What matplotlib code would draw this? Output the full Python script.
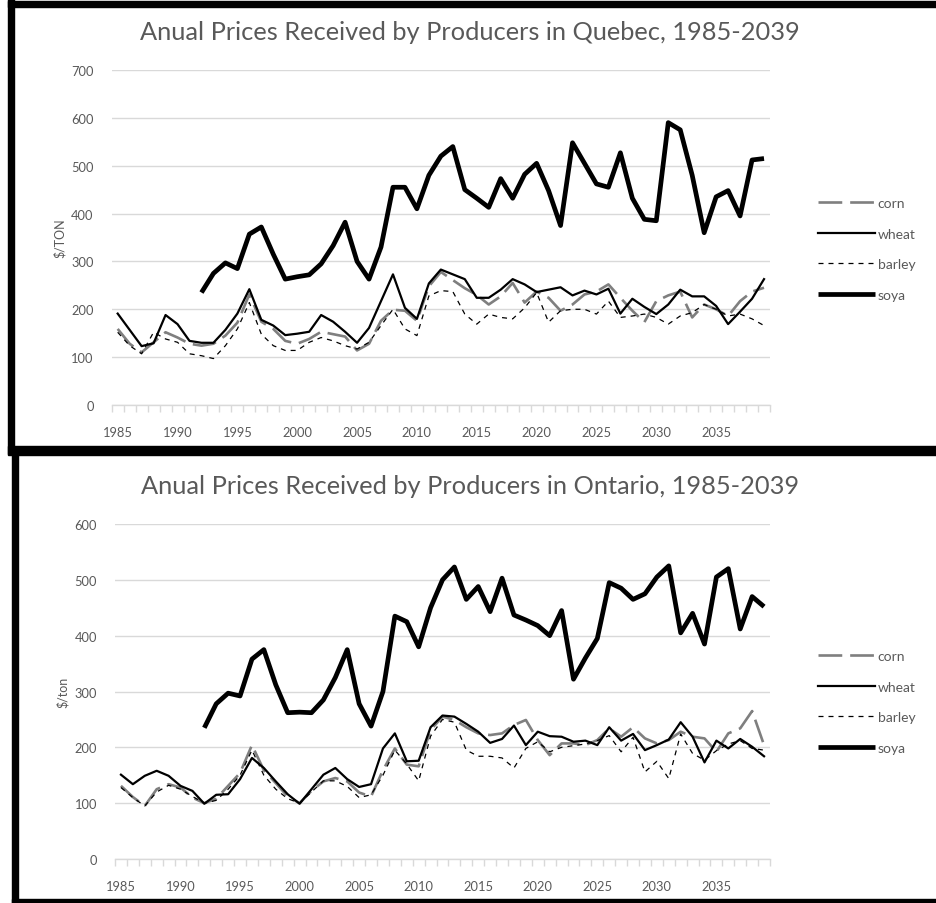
import numpy as np
import matplotlib.pyplot as plt
from matplotlib.patches import Rectangle
from matplotlib.ticker import FixedLocator

# years on the category axis
years = list(range(1985, 2040))
soya_years = list(range(1992, 2040))

# Quebec prices ($/ton)
qc_corn = [159, 128, 110, 131, 152, 141, 128, 124, 128, 145,
           172, 231, 174, 159, 134, 128, 138, 153, 148, 143,
           114, 128, 176, 199, 197, 176, 248, 278, 261, 244,
           230, 210, 227, 255, 214, 237, 224, 197, 210, 231,
           237, 252, 224, 197, 173, 217, 229, 237, 183, 210,
           200, 186, 217, 237, 245]
qc_wheat = [191, 157, 123, 129, 188, 169, 134, 130, 130, 157,
            191, 242, 178, 166, 146, 149, 153, 188, 174, 153,
            130, 161, 217, 273, 203, 180, 254, 283, 273, 263,
            224, 224, 241, 263, 252, 236, 241, 246, 229, 239,
            231, 243, 191, 222, 205, 190, 210, 241, 227, 227,
            207, 169, 195, 222, 263]
qc_barley = [152, 124, 107, 152, 138, 131, 107, 103, 97, 124,
             159, 214, 148, 124, 114, 114, 131, 141, 134, 124,
             117, 131, 166, 200, 159, 145, 228, 239, 237, 190,
             169, 190, 183, 180, 203, 235, 173, 197, 200, 200,
             190, 217, 183, 186, 190, 183, 169, 186, 193, 210,
             200, 186, 190, 180, 166]
qc_soya = [235, 275, 297, 285, 357, 372, 315, 263, 268, 272,
           295, 333, 382, 300, 263, 330, 455, 455, 410, 480,
           520, 540, 450, 432, 413, 473, 432, 482, 505, 448,
           375, 548, 505, 462, 455, 527, 432, 388, 385, 590,
           575, 480, 360, 435, 448, 395, 512, 515]

# Ontario prices ($/ton)
on_corn = [131, 111, 95, 125, 134, 128, 110, 100, 108, 131,
           154, 204, 159, 136, 112, 100, 122, 139, 145, 139,
           119, 112, 159, 198, 169, 166, 231, 255, 249, 236,
           225, 222, 225, 240, 249, 213, 186, 207, 207, 204,
           213, 234, 219, 236, 216, 207, 213, 228, 219, 216,
           192, 225, 234, 265, 204]
on_wheat = [151, 134, 149, 158, 149, 131, 122, 99, 115, 116,
            143, 181, 163, 139, 116, 99, 125, 151, 163, 143,
            129, 134, 198, 225, 175, 176, 236, 257, 255, 242,
            228, 208, 215, 239, 204, 228, 220, 219, 210, 212,
            204, 236, 212, 224, 195, 204, 214, 245, 219, 173,
            212, 198, 215, 201, 184]
on_barley = [128, 110, 95, 120, 132, 125, 112, 100, 105, 125,
             150, 195, 150, 125, 108, 100, 120, 140, 140, 130,
             110, 115, 150, 195, 170, 140, 220, 250, 245, 195,
             184, 184, 181, 163, 198, 210, 192, 200, 203, 206,
             212, 221, 192, 218, 156, 175, 144, 224, 189, 177,
             194, 206, 212, 198, 195]
on_soya = [235, 278, 297, 292, 358, 375, 312, 262, 263, 262,
           285, 325, 375, 278, 238, 300, 435, 425, 380, 450,
           500, 523, 465, 488, 443, 503, 437, 428, 418, 400,
           445, 322, 360, 395, 495, 485, 465, 475, 505, 525,
           405, 440, 385, 505, 520, 412, 470, 452]

W, H = 936, 904
GRAY_TXT = "#595959"
GRID = "#d9d9d9"
plt.rcParams["font.family"] = ["Lato", "DejaVu Sans"]

fig = plt.figure(figsize=(W / 100, H / 100), dpi=100)


def px_rect(left, top, right, bottom):
    return [left / W, 1 - bottom / H, (right - left) / W, (bottom - top) / H]


def draw_panel(rect, corn, wheat, barley, soya, ymax, ylabel, title, title_y, leg_y):
    ax = fig.add_axes(rect)
    ax.plot(years, corn, color="#7f7f7f", lw=1.9, dashes=(9, 3), label="corn")
    ax.plot(years, wheat, color="black", lw=1.6, label="wheat")
    ax.plot(years, barley, color="black", lw=0.9, dashes=(4, 4), label="barley")
    ax.plot(soya_years, soya, color="black", lw=3.4, solid_capstyle="butt", label="soya")

    ax.set_xlim(1984.5, 2039.5)
    ax.set_ylim(0, ymax)
    ax.set_yticks(range(0, ymax + 1, 100))
    ax.yaxis.grid(True, color=GRID, lw=1.0)
    ax.set_axisbelow(True)
    for s in ["top", "right", "left"]:
        ax.spines[s].set_visible(False)
    ax.spines["bottom"].set_color(GRID)
    ax.spines["bottom"].set_linewidth(1.0)

    ax.set_xticks(range(1985, 2036, 5))
    ax.xaxis.set_minor_locator(FixedLocator(np.arange(1984.5, 2040, 1)))
    ax.tick_params(axis="x", which="major", length=0, pad=15, labelsize=9.3, labelcolor=GRAY_TXT)
    ax.tick_params(axis="x", which="minor", length=5, color=GRID, width=1.0)
    ax.tick_params(axis="y", length=0, pad=13, labelsize=9.3, labelcolor=GRAY_TXT)
    ax.set_ylabel(ylabel, color=GRAY_TXT, fontsize=9, labelpad=4)

    fig.text(470 / W, 1 - title_y / H, title, ha="center", va="center",
             fontsize=18.3, color=GRAY_TXT)

    handles, labels = ax.get_legend_handles_labels()
    fig.legend(handles, labels, loc="center left", bbox_to_anchor=(805 / W, 1 - leg_y / H),
               frameon=False, fontsize=10, labelcolor=GRAY_TXT, handlelength=4.15,
               handletextpad=0.18, labelspacing=1.33)
    return ax


draw_panel(px_rect(111.7, 71, 770, 406), qc_corn, qc_wheat, qc_barley, qc_soya,
           700, "$/TON", "Anual Prices Received by Producers in Quebec, 1985-2039", 32, 250)
draw_panel(px_rect(115, 525, 770, 860), on_corn, on_wheat, on_barley, on_soya,
           600, "$/ton", "Anual Prices Received by Producers in Ontario, 1985-2039", 487, 703)

# thick black frames around the two chart screenshots
frames = [(8, 0, 6, 455), (8, 2, 928, 6), (8, 447, 928, 9), (12, 455, 6, 449), (12, 900, 924, 4)]
for x, y, w, h in frames:
    fig.patches.append(Rectangle((x / W, 1 - (y + h) / H), w / W, h / H,
                                 transform=fig.transFigure, color="black", zorder=10))

fig.savefig("out.png", dpi=100)
